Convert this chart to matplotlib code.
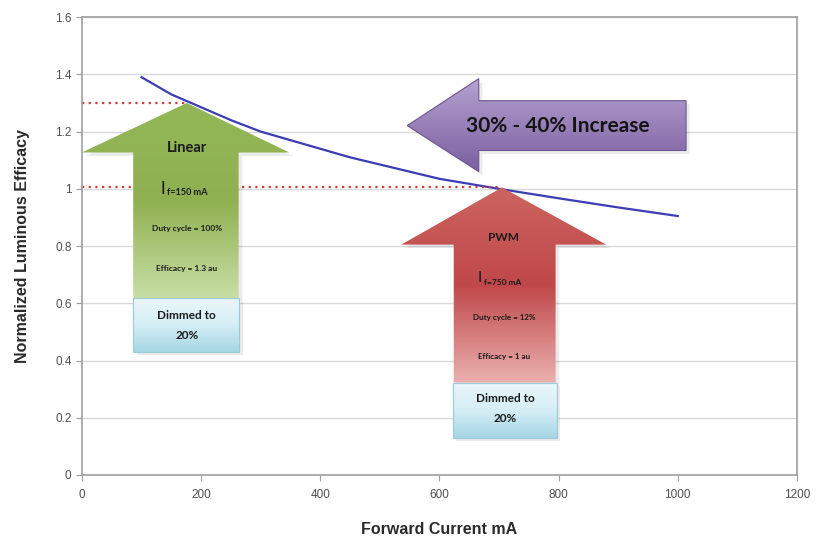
import numpy as np
import matplotlib
matplotlib.use('Agg')
import matplotlib.pyplot as plt
from matplotlib.patches import Polygon
from matplotlib.colors import LinearSegmentedColormap

# curve
current_mA = [100, 150, 200, 250, 300, 350, 400, 450, 500, 600, 700, 800, 900, 1000]
efficacy = [1.39, 1.33, 1.285, 1.24, 1.20, 1.17, 1.14, 1.11, 1.085, 1.035, 1.0, 0.967, 0.935, 0.905]

# reference levels (dotted lines)
linear_point = (176, 1.30)
pwm_point = (705, 1.005)

x_ticks = [0, 200, 400, 600, 800, 1000, 1200]
y_ticks = [0, 0.2, 0.4, 0.6, 0.8, 1, 1.2, 1.4, 1.6]
y_tick_labels = ['0', '0.2', '0.4', '0.6', '0.8', '1', '1.2', '1.4', '1.6']

TXT = ['Lato', 'DejaVu Sans']
AXF = ['Liberation Sans', 'DejaVu Sans']


def grad_poly(ax, verts, colors, edge=None, z=3):
    verts = np.array(verts)
    patch = Polygon(verts, closed=True, facecolor='none',
                    edgecolor=edge if edge else 'none', lw=0.8, zorder=z + 0.1)
    ax.add_patch(patch)
    cmap = LinearSegmentedColormap.from_list('g', colors)
    arr = np.linspace(0, 1, 256).reshape(-1, 1)
    x0, y0 = verts.min(axis=0)
    x1, y1 = verts.max(axis=0)
    im = ax.imshow(arr, cmap=cmap, extent=[x0, x1, y0, y1], origin='upper',
                   aspect='auto', zorder=z, interpolation='bilinear')
    clip = Polygon(verts, closed=True, transform=ax.transData)
    im.set_clip_path(clip)
    # soft shadow
    sh = Polygon(verts + np.array([6, -0.012]), closed=True, facecolor='#000000',
                 alpha=0.08, edgecolor='none', zorder=z - 0.5)
    ax.add_patch(sh)


def up_arrow(ax, tip, head_l, head_r, head_y, sh_l, sh_r, bot, colors):
    verts = [tip, (head_r, head_y), (sh_r, head_y), (sh_r, bot),
             (sh_l, bot), (sh_l, head_y), (head_l, head_y)]
    grad_poly(ax, verts, colors)


def label(ax, x, y, s, size):
    ax.text(x, y, s, ha='center', va='center', fontsize=size,
            fontweight='bold', family=TXT, color='#1a1a1a', zorder=6)


def current_label(ax, x, y, sub, size):
    # big "I" with a small bold subscript
    ax.annotate('I', (x, y), xytext=(-17, 0), textcoords='offset points',
                ha='center', va='center', fontsize=size, family=TXT,
                color='#1a1a1a', zorder=6)
    ax.annotate(sub, (x, y), xytext=(-14, -3), textcoords='offset points',
                ha='left', va='center', fontsize=size * 0.55, fontweight='bold',
                family=TXT, color='#1a1a1a', zorder=6)


fig = plt.figure(figsize=(8.18, 5.49), dpi=100)
ax = fig.add_axes([0.1002, 0.1348, 0.874, 0.834])

ax.plot(current_mA, efficacy, color='#3c3cb4', lw=1.6, zorder=2)

ax.plot([0, linear_point[0]], [linear_point[1]] * 2, color='#d43a3a',
        ls=(0, (1, 2)), lw=1.6, zorder=2)
ax.plot([0, pwm_point[0]], [pwm_point[1]] * 2, color='#d43a3a',
        ls=(0, (1, 2)), lw=1.6, zorder=2)

box_cols = ['#eaf6fa', '#d4eef5', '#a6d6e4']

# Linear arrow
up_arrow(ax, linear_point, 0, 348, 1.127, 86, 263, 0.618,
         ['#93b757', '#8fb050', '#c8dea5'])
grad_poly(ax, [(86, 0.618), (264, 0.618), (264, 0.43), (86, 0.43)],
          box_cols, edge='#9cc9d8')
label(ax, 176, 1.144, 'Linear', 10.5)
current_label(ax, 176, 1.0, 'f=150 mA', 12)
label(ax, 176, 0.86, 'Duty cycle = 100%', 6)
label(ax, 176, 0.723, 'Efficacy = 1.3 au', 6)
label(ax, 176, 0.558, 'Dimmed to', 8.5)
label(ax, 176, 0.487, '20%', 8.5)

# PWM arrow
up_arrow(ax, pwm_point, 536, 880, 0.805, 624, 795, 0.323,
         ['#cc6460', '#c0484a', '#eab0ae'])
grad_poly(ax, [(622, 0.323), (797, 0.323), (797, 0.131), (622, 0.131)],
          box_cols, edge='#9cc9d8')
label(ax, 708, 0.831, 'PWM', 8.5)
current_label(ax, 708, 0.688, 'f=750 mA', 11)
label(ax, 708, 0.551, 'Duty cycle = 12%', 5.8)
label(ax, 708, 0.414, 'Efficacy = 1 au', 5.8)
label(ax, 710, 0.267, 'Dimmed to', 8.5)
label(ax, 710, 0.197, '20%', 8.5)

# increase arrow (pointing left)
grad_poly(ax, [(546, 1.221), (666, 1.385), (666, 1.308), (1014, 1.308),
               (1014, 1.134), (666, 1.134), (666, 1.06)],
          ['#b5a3cf', '#9880b8', '#7a5e9e'], edge='#6e5590')
ax.text(798, 1.221, '30% - 40% Increase', ha='center', va='center',
        fontsize=15, fontweight='bold', family=TXT, color='#141414', zorder=6)

ax.set_xlim(0, 1200)
ax.set_ylim(0, 1.6)
ax.set_xticks(x_ticks)
ax.set_yticks(y_ticks)
ax.set_yticklabels(y_tick_labels)
ax.yaxis.grid(True, color='#d9d9d9', lw=1)
ax.set_axisbelow(True)
for s in ax.spines.values():
    s.set_color('#a0a0a0')
    s.set_linewidth(1.2)
ax.tick_params(axis='both', colors='#a0a0a0', labelcolor='#505050',
               labelsize=8.5, length=4, direction='out')
ax.tick_params(axis='x', pad=6)
for lab in ax.get_xticklabels() + ax.get_yticklabels():
    lab.set_family(AXF)

ax.set_xlabel('Forward Current mA', fontsize=11.5, fontweight='bold',
              family=AXF, color='#2a2a2a', labelpad=15)
ax.set_ylabel('Normalized Luminous Efficacy', fontsize=11.5, fontweight='bold',
              family=AXF, color='#2a2a2a', labelpad=18)

fig.savefig('out.png', dpi=100)
